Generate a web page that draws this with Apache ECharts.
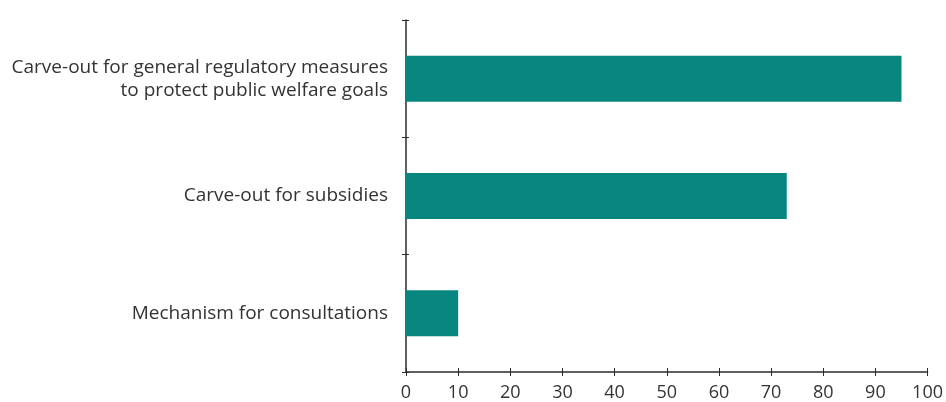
<!DOCTYPE html>
<html style="height:100%">
<head>
  <meta charset="UTF-8">
  <title>Carve-outs and consultations</title>
  <script src="https://cdn.jsdelivr.net/npm/echarts/dist/echarts.min.js"></script>
  <style>
    html, body { margin: 0; padding: 0; background: #fff; }
    #chart { width: 946px; height: 402px; }
  </style>
</head>
<body>
<div id="chart"></div>
<script>
  // categories, top to bottom
  var categories = [
    'Carve-out for general regulatory measures\nto protect public welfare goals',
    'Carve-out for subsidies',
    'Mechanism for consultations'
  ];
  // percent values
  var values = [95, 73, 10];
  var xTicks = [0, 100, 10]; // min, max, interval

  var myChart = echarts.init(document.getElementById('chart'));

  var axisColor = '#2b2b2b';

  var option = {
    animation: false,
    grid: { left: 406, right: 14, top: 20, bottom: 29 },
    xAxis: [{
      type: 'value',
      min: xTicks[0],
      max: xTicks[1],
      interval: xTicks[2],
      axisLine: { show: true, lineStyle: { color: axisColor, width: 1.5 } },
      axisTick: { show: true, length: 4, lineStyle: { color: axisColor } },
      splitLine: { show: false },
      axisLabel: {
        color: '#333',
        fontSize: 18,
        fontFamily: 'Open Sans',
        margin: 12
      }
    }, {
      // second copy only to make the ticks cross the axis line
      type: 'value',
      position: 'bottom',
      min: xTicks[0],
      max: xTicks[1],
      interval: xTicks[2],
      axisLine: { show: false },
      axisTick: { show: true, inside: true, length: 4, lineStyle: { color: axisColor } },
      axisLabel: { show: false },
      splitLine: { show: false }
    }],
    yAxis: [{
      type: 'category',
      inverse: true,
      data: categories,
      axisLine: { show: true, lineStyle: { color: axisColor, width: 1.5 } },
      axisTick: { show: true, length: 4, lineStyle: { color: axisColor } },
      axisLabel: {
        color: '#333',
        fontSize: 19,
        fontFamily: 'Open Sans',
        lineHeight: 23,
        margin: 18,
        align: 'right'
      }
    }, {
      type: 'category',
      position: 'left',
      inverse: true,
      data: categories,
      axisLine: { show: false },
      axisTick: { show: true, inside: true, length: 3, lineStyle: { color: axisColor } },
      axisLabel: { show: false }
    }],
    series: [{
      type: 'bar',
      data: values,
      barWidth: 46,
      itemStyle: { color: '#07857f' }
    }]
  };

  myChart.setOption(option);
</script>
</body>
</html>
